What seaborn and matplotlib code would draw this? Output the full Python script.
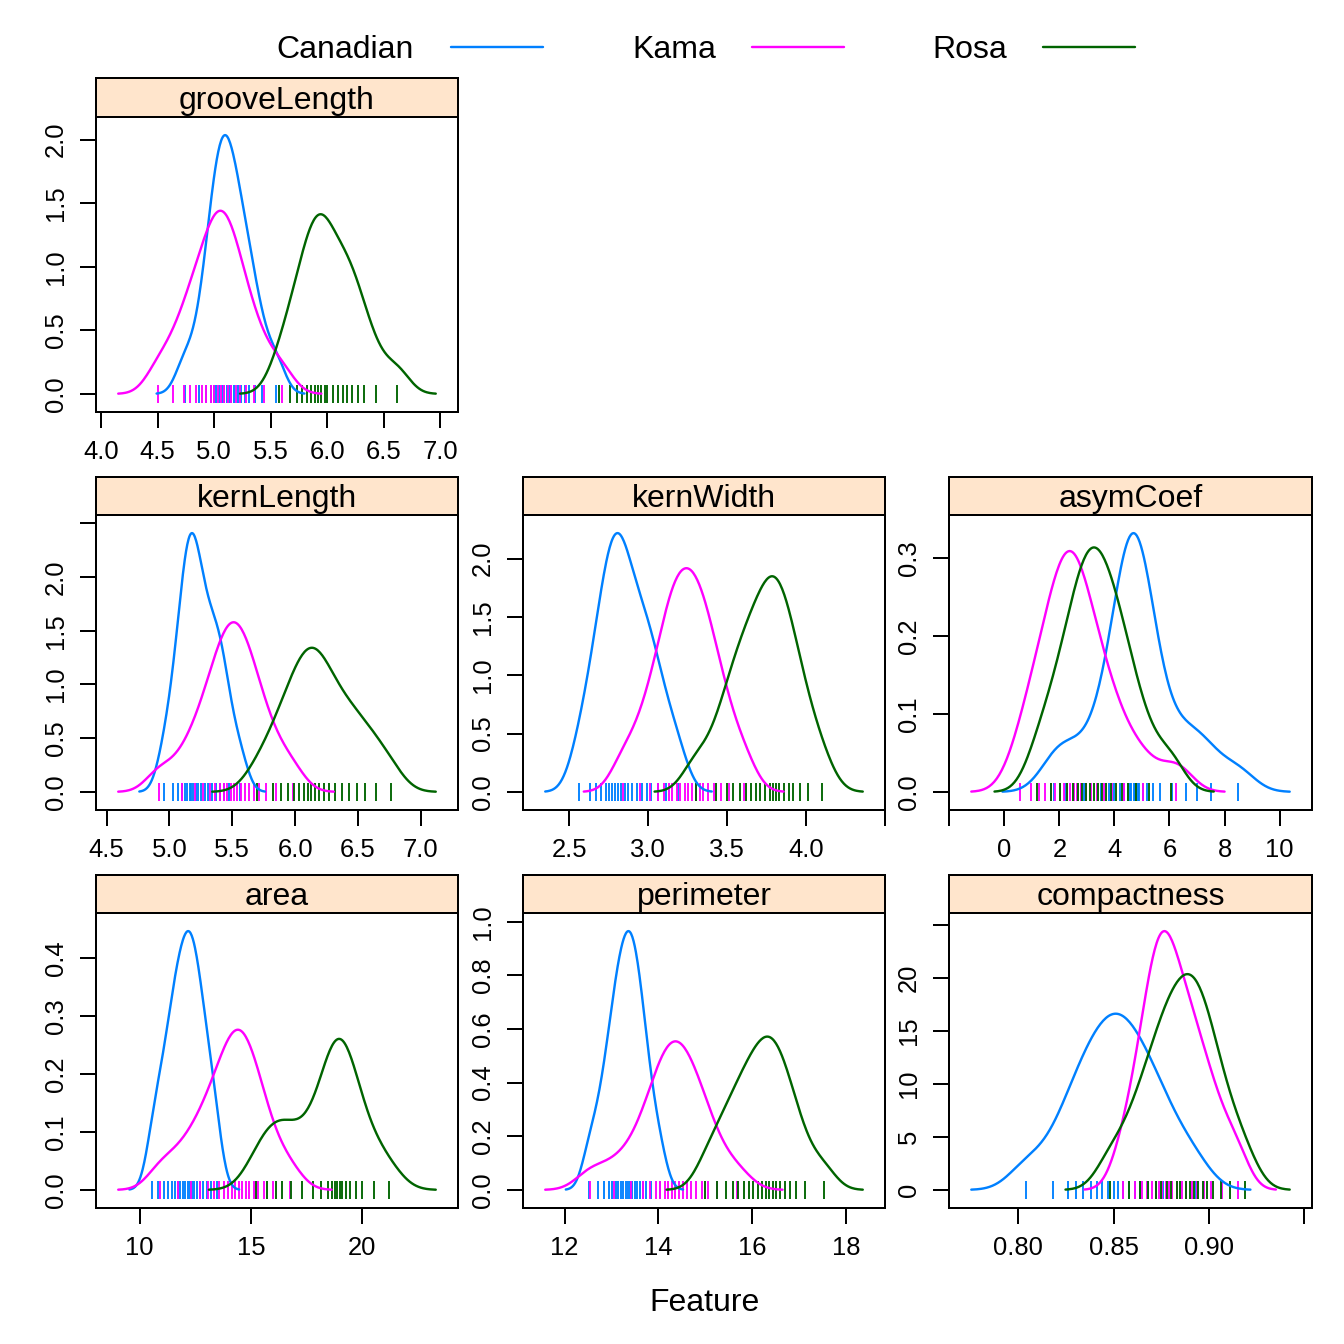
import matplotlib
matplotlib.use("Agg")
import matplotlib.pyplot as plt
from matplotlib.lines import Line2D
import seaborn as sns

# varieties and their lattice colours
varieties = ["Canadian", "Kama", "Rosa"]
colors = ["#0080ff", "#ff00ff", "#006400"]

# measurements read off the rug marks (approximate, ~20 kernels per variety)
groove_canadian = [4.74, 4.87, 4.93, 4.97, 5.00, 5.02, 5.04, 5.07, 5.09, 5.11,
                   5.13, 5.15, 5.18, 5.21, 5.24, 5.27, 5.31, 5.36, 5.42, 5.55]
groove_kama = [4.50, 4.64, 4.73, 4.79, 4.84, 4.89, 4.93, 4.97, 5.00, 5.03,
               5.06, 5.09, 5.12, 5.15, 5.19, 5.23, 5.28, 5.35, 5.44, 5.60]
groove_rosa = [5.57, 5.67, 5.73, 5.78, 5.82, 5.86, 5.89, 5.92, 5.95, 5.98,
               6.00, 6.05, 6.10, 6.14, 6.18, 6.22, 6.27, 6.33, 6.43, 6.62]

kernlength_canadian = [4.96, 5.03, 5.07, 5.10, 5.12, 5.14, 5.16, 5.17, 5.19, 5.21,
                       5.23, 5.25, 5.28, 5.31, 5.34, 5.37, 5.40, 5.43, 5.47, 5.56]
kernlength_kama = [4.92, 5.10, 5.20, 5.27, 5.32, 5.36, 5.40, 5.43, 5.46, 5.49,
                   5.51, 5.54, 5.57, 5.60, 5.63, 5.67, 5.71, 5.77, 5.85, 5.98]
kernlength_rosa = [5.70, 5.82, 5.89, 5.94, 5.99, 6.03, 6.07, 6.10, 6.13, 6.16,
                   6.19, 6.23, 6.27, 6.32, 6.37, 6.43, 6.49, 6.56, 6.64, 6.76]

kernwidth_canadian = [2.56, 2.63, 2.67, 2.70, 2.73, 2.75, 2.77, 2.79, 2.81, 2.83,
                      2.85, 2.87, 2.90, 2.93, 2.96, 2.99, 3.02, 3.06, 3.11, 3.19]
kernwidth_kama = [2.84, 2.95, 3.01, 3.06, 3.10, 3.13, 3.15, 3.18, 3.20, 3.23,
                  3.25, 3.28, 3.30, 3.33, 3.35, 3.38, 3.42, 3.46, 3.51, 3.61]
kernwidth_rosa = [3.30, 3.43, 3.50, 3.54, 3.58, 3.62, 3.65, 3.68, 3.71, 3.74,
                  3.77, 3.79, 3.81, 3.83, 3.86, 3.89, 3.92, 3.96, 4.01, 4.10]

asym_canadian = [1.8, 2.2, 2.9, 3.5, 3.8, 4.0, 4.2, 4.35, 4.5, 4.55, 4.6, 4.7, 4.75,
                 4.8, 4.85, 4.9, 5.05, 5.2, 5.4, 5.65, 6.1, 6.6, 7.0, 7.5, 8.5]
asym_kama = [0.55, 0.95, 1.25, 1.48, 1.68, 1.85, 2.01, 2.15, 2.28, 2.40, 2.52,
             2.64, 2.78, 2.95, 3.14, 3.36, 3.61, 3.92, 4.33, 5.05, 6.25]
asym_rosa = [1.20, 1.68, 2.02, 2.28, 2.49, 2.67, 2.83, 2.98, 3.12, 3.26,
             3.40, 3.55, 3.71, 3.88, 4.06, 4.26, 4.49, 4.77, 5.25, 6.05]

area_canadian = [10.55, 10.83, 11.09, 11.28, 11.44, 11.57, 11.70, 11.82, 11.93, 12.05,
                 12.15, 12.25, 12.35, 12.45, 12.57, 12.69, 12.83, 13.00, 13.22, 13.45]
area_kama = [10.90, 11.70, 12.30, 12.70, 13.05, 13.33, 13.57, 13.78, 13.98, 14.15,
             14.30, 14.44, 14.59, 14.75, 14.92, 15.11, 15.33, 15.60, 15.97, 16.75]
area_rosa = [15.2, 15.7, 16.1, 16.4, 16.8, 17.3, 17.8, 18.15, 18.45, 18.65,
             18.78, 18.88, 18.98, 19.1, 19.25, 19.45, 19.7, 20.0, 20.5, 21.2]

perimeter_canadian = [12.52, 12.72, 12.85, 12.95, 13.02, 13.09, 13.14, 13.20, 13.25, 13.30,
                      13.35, 13.40, 13.44, 13.49, 13.54, 13.60, 13.66, 13.74, 13.84, 14.03]
perimeter_kama = [12.55, 13.05, 13.42, 13.66, 13.82, 13.94, 14.04, 14.13, 14.21, 14.28,
                  14.36, 14.44, 14.52, 14.61, 14.70, 14.80, 14.92, 15.06, 15.25, 15.68]
perimeter_rosa = [15.00, 15.25, 15.43, 15.58, 15.70, 15.82, 15.92, 16.01, 16.11, 16.20,
                  16.28, 16.35, 16.43, 16.51, 16.59, 16.69, 16.79, 16.93, 17.12, 17.52]

compact_canadian = [0.804, 0.818, 0.826, 0.830, 0.834, 0.838, 0.841, 0.844, 0.847, 0.850,
                    0.852, 0.855, 0.858, 0.861, 0.864, 0.868, 0.872, 0.876, 0.883, 0.893]
compact_kama = [0.8547, 0.8613, 0.8650, 0.8677, 0.8700, 0.8720, 0.8738, 0.8755, 0.8772, 0.8788,
                0.8808, 0.8832, 0.8856, 0.8881, 0.8908, 0.8938, 0.8972, 0.9012, 0.9067, 0.9150]
compact_rosa = [0.848, 0.858, 0.864, 0.868, 0.872, 0.875, 0.878, 0.880, 0.883, 0.885,
                0.888, 0.890, 0.892, 0.894, 0.897, 0.899, 0.902, 0.906, 0.911, 0.919]

# axis ticks per panel (label "" = tick without label, as lattice does)
groove_xticks = [4.0, 4.5, 5.0, 5.5, 6.0, 6.5, 7.0]
groove_xlabels = ["4.0", "4.5", "5.0", "5.5", "6.0", "6.5", "7.0"]
groove_yticks = [0.0, 0.5, 1.0, 1.5, 2.0]
groove_ylabels = ["0.0", "0.5", "1.0", "1.5", "2.0"]

kernlength_xticks = [4.5, 5.0, 5.5, 6.0, 6.5, 7.0]
kernlength_xlabels = ["4.5", "5.0", "5.5", "6.0", "6.5", "7.0"]
kernlength_yticks = [0.0, 0.5, 1.0, 1.5, 2.0, 2.5]
kernlength_ylabels = ["0.0", "0.5", "1.0", "1.5", "2.0", ""]

kernwidth_xticks = [2.5, 3.0, 3.5, 4.0, 4.5]
kernwidth_xlabels = ["2.5", "3.0", "3.5", "4.0", ""]
kernwidth_yticks = [0.0, 0.5, 1.0, 1.5, 2.0]
kernwidth_ylabels = ["0.0", "0.5", "1.0", "1.5", "2.0"]

asym_xticks = [-2, 0, 2, 4, 6, 8, 10]
asym_xlabels = ["", "0", "2", "4", "6", "8", "10"]
asym_yticks = [0.0, 0.1, 0.2, 0.3]
asym_ylabels = ["0.0", "0.1", "0.2", "0.3"]

area_xticks = [10, 15, 20]
area_xlabels = ["10", "15", "20"]
area_yticks = [0.0, 0.1, 0.2, 0.3, 0.4]
area_ylabels = ["0.0", "0.1", "0.2", "0.3", "0.4"]

perimeter_xticks = [12, 14, 16, 18]
perimeter_xlabels = ["12", "14", "16", "18"]
perimeter_yticks = [0.0, 0.2, 0.4, 0.6, 0.8, 1.0]
perimeter_ylabels = ["0.0", "0.2", "0.4", "0.6", "0.8", "1.0"]

compact_xticks = [0.80, 0.85, 0.90, 0.95]
compact_xlabels = ["0.80", "0.85", "0.90", ""]
compact_yticks = [0, 5, 10, 15, 20, 25]
compact_ylabels = ["0", "5", "10", "15", "20", ""]

sns.set_style("ticks")
plt.rcParams["font.family"] = ["Liberation Sans", "DejaVu Sans"]
plt.rcParams["axes.edgecolor"] = "black"
plt.rcParams["axes.linewidth"] = 0.75
plt.rcParams["text.color"] = "black"
plt.rcParams["xtick.color"] = "black"
plt.rcParams["ytick.color"] = "black"

W, H = 1344, 1344
fig = plt.figure(figsize=(7, 7), dpi=192)


def rect(x0, y0, x1, y1):
    return [x0 / W, 1 - y1 / H, (x1 - x0) / W, (y1 - y0) / H]


cols_px = [(96, 458), (523, 885), (949, 1312)]
rows_px = [(78, 117, 412), (477, 515, 810), (875, 913, 1208)]

panels = [
    ("grooveLength", [groove_canadian, groove_kama, groove_rosa], 0, 0,
     groove_xticks, groove_xlabels, groove_yticks, groove_ylabels),
    ("kernLength", [kernlength_canadian, kernlength_kama, kernlength_rosa], 1, 0,
     kernlength_xticks, kernlength_xlabels, kernlength_yticks, kernlength_ylabels),
    ("kernWidth", [kernwidth_canadian, kernwidth_kama, kernwidth_rosa], 1, 1,
     kernwidth_xticks, kernwidth_xlabels, kernwidth_yticks, kernwidth_ylabels),
    ("asymCoef", [asym_canadian, asym_kama, asym_rosa], 1, 2,
     asym_xticks, asym_xlabels, asym_yticks, asym_ylabels),
    ("area", [area_canadian, area_kama, area_rosa], 2, 0,
     area_xticks, area_xlabels, area_yticks, area_ylabels),
    ("perimeter", [perimeter_canadian, perimeter_kama, perimeter_rosa], 2, 1,
     perimeter_xticks, perimeter_xlabels, perimeter_yticks, perimeter_ylabels),
    ("compactness", [compact_canadian, compact_kama, compact_rosa], 2, 2,
     compact_xticks, compact_xlabels, compact_yticks, compact_ylabels),
]

for name, groups, r, c, xt, xl, yt, yl in panels:
    x0, x1 = cols_px[c]
    ys, yp, yb = rows_px[r]
    ax = fig.add_axes(rect(x0, yp, x1, yb))

    for vals, col in zip(groups, colors):
        # rug of "|" marks at zero, then the density curve
        sns.scatterplot(x=vals, y=[0] * len(vals), marker="|", s=48, color=col,
                        linewidth=0.7, legend=False, ax=ax)
        sns.kdeplot(x=vals, color=col, bw_adjust=0.78, cut=3, linewidth=0.9, ax=ax)

    ax.use_sticky_edges = False
    ax.margins(x=0.07, y=0.07)
    ax.autoscale_view()
    ax.set_xlabel("")
    ax.set_ylabel("")
    ax.set_xticks(xt, xl)
    ax.set_yticks(yt, yl, rotation=90, va="center")
    ax.tick_params(direction="out", length=6, width=0.75, labelsize=9.6,
                   pad=4.5, colors="black")
    for sp in ax.spines.values():
        sp.set_visible(True)
        sp.set_linewidth(0.75)

    # strip on top of the panel
    sax = fig.add_axes(rect(x0, ys, x1, yp))
    sax.set_facecolor("#ffe5cc")
    sax.set_xticks([])
    sax.set_yticks([])
    for sp in sax.spines.values():
        sp.set_visible(True)
        sp.set_linewidth(0.75)
    sax.text(0.5, 0.42, name, ha="center", va="center", fontsize=12,
             color="black", transform=sax.transAxes)

# key on top
key_y = 1 - 50 / H
key_pos = [(414, 451, 543), (716, 752, 844), (1007, 1043, 1135)]
for lab, col, (tx, lx0, lx1) in zip(varieties, colors, key_pos):
    fig.text(tx / W, key_y, lab, ha="right", va="center", fontsize=12, color="black")
    fig.add_artist(Line2D([lx0 / W, lx1 / W], [1 - 47 / H, 1 - 47 / H], color=col,
                          linewidth=0.9, transform=fig.transFigure))

fig.text(704 / W, 1 - 1303 / H, "Feature", ha="center", va="center", fontsize=12,
         color="black")

fig.savefig("out.png", dpi=192)
